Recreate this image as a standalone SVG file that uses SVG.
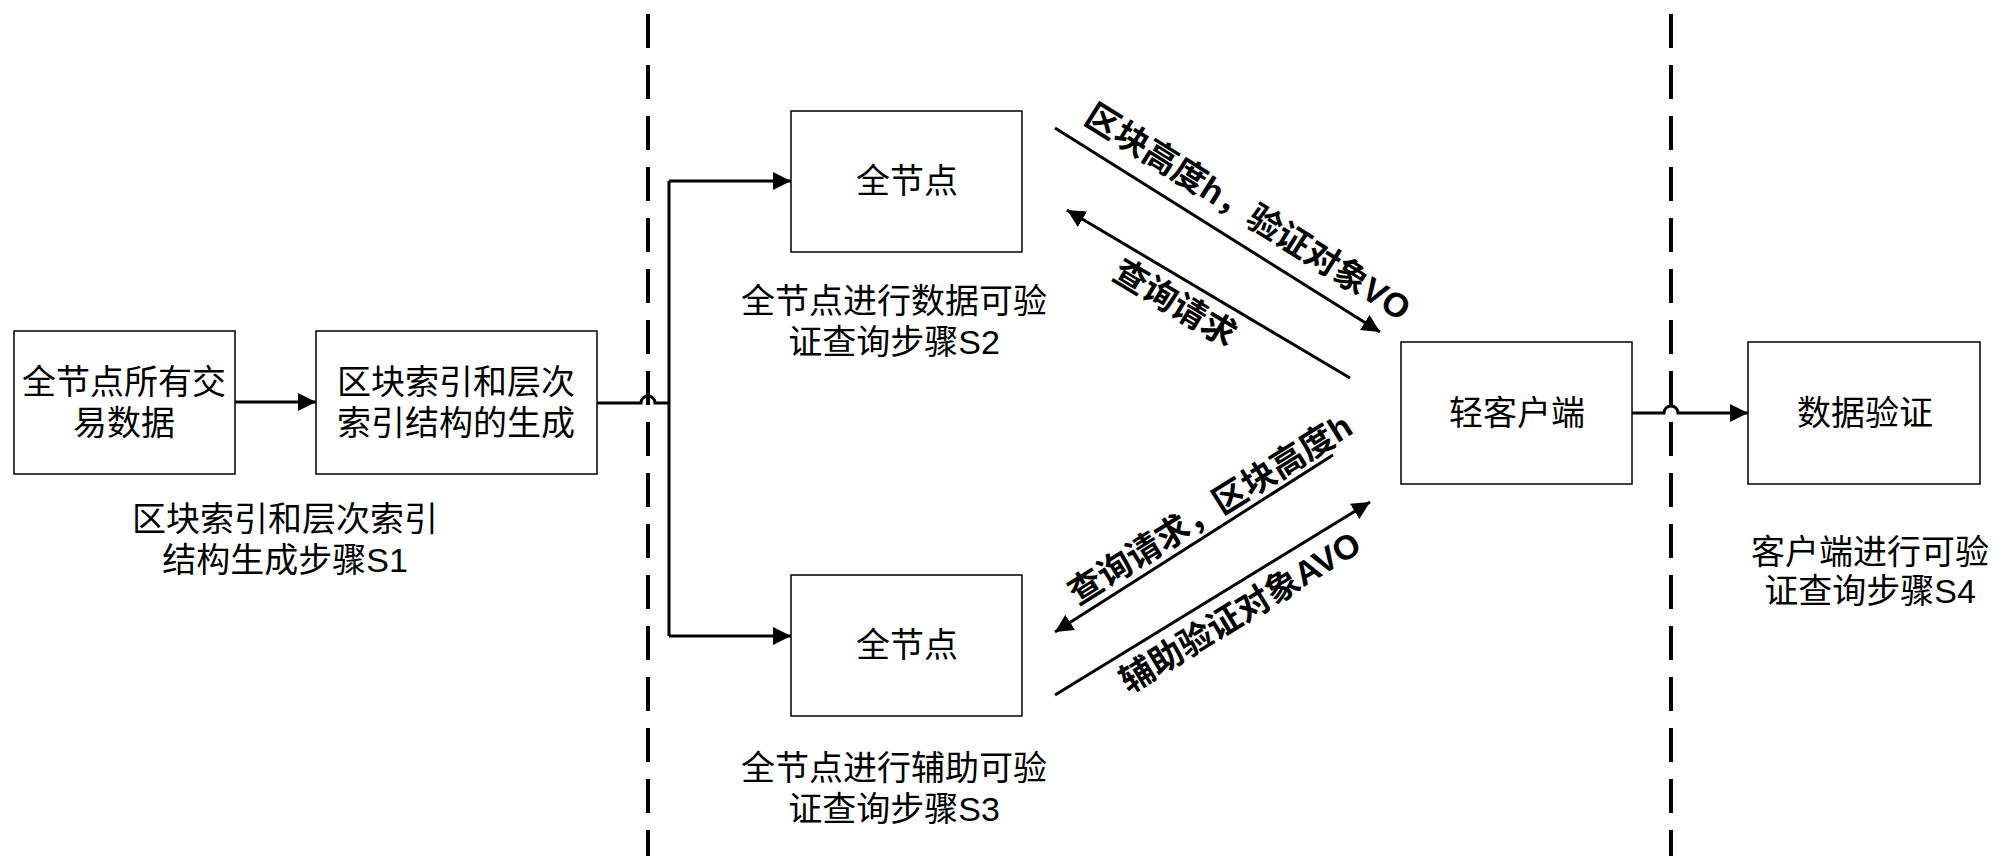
<svg xmlns="http://www.w3.org/2000/svg" width="2004" height="867" viewBox="0 0 2004 867">
<style>
.box{fill:#fff;stroke:#000;stroke-width:1.5}
.t{font-family:"Liberation Sans","Noto Sans CJK SC",sans-serif;font-size:34px;fill:#000;text-anchor:middle;dominant-baseline:central}
.tb{font-weight:bold}
.c{fill:none;stroke:#000;stroke-width:3}
.d{fill:none;stroke:#000;stroke-width:4;stroke-dasharray:34 17}
</style>
<defs>
<marker id="ah" markerUnits="userSpaceOnUse" markerWidth="20" markerHeight="20" refX="18" refY="9" orient="auto">
<path d="M0,0 L18,9 L0,18 z" fill="#000"/>
</marker>
</defs>
<rect width="2004" height="867" fill="#fff"/>
<g id="dividers">
<line class="d" x1="648" y1="14" x2="648" y2="856"/>
<line class="d" x1="1671" y1="14" x2="1671" y2="856"/>
</g>
<g id="connectors">
<line class="c" x1="235" y1="402" x2="316" y2="402" marker-end="url(#ah)"/>
<path class="c" d="M597,403 H641 A7,7 0 0 1 655,403 H669"/>
<path class="c" d="M669,181 V636"/>
<path class="c" d="M669,181 H791" marker-end="url(#ah)"/>
<path class="c" d="M669,636 H791" marker-end="url(#ah)"/>
<line class="c" x1="1055" y1="128" x2="1380" y2="332" marker-end="url(#ah)"/>
<line class="c" x1="1350" y1="378" x2="1067" y2="210" marker-end="url(#ah)"/>
<line class="c" x1="1333" y1="455" x2="1055" y2="632" marker-end="url(#ah)"/>
<line class="c" x1="1055" y1="695" x2="1370" y2="502" marker-end="url(#ah)"/>
<path class="c" d="M1632,413 H1664 A7,7 0 0 1 1678,413 H1748" marker-end="url(#ah)"/>
<text class="t tb" transform="translate(1248,212) rotate(32)">区块高度h，验证对象VO</text>
<text class="t tb" transform="translate(1175,303) rotate(31)">查询请求</text>
<text class="t tb" transform="translate(1210,509) rotate(-32)">查询请求，区块高度h</text>
<text class="t tb" transform="translate(1240,612) rotate(-31.5)">辅助验证对象AVO</text>
</g>
<g id="n1">
<rect class="box" x="14" y="331" width="221" height="143"/>
<text class="t" x="124" y="382">全节点所有交</text>
<text class="t" x="124" y="423">易数据</text>
</g>
<g id="n2">
<rect class="box" x="316" y="331" width="281" height="143"/>
<text class="t" x="456" y="382">区块索引和层次</text>
<text class="t" x="456" y="423">索引结构的生成</text>
<text class="t" x="285" y="519">区块索引和层次索引</text>
<text class="t" x="285" y="560">结构生成步骤S1</text>
</g>
<g id="n3">
<rect class="box" x="791" y="111" width="231" height="141"/>
<text class="t" x="907" y="181">全节点</text>
<text class="t" x="894" y="301">全节点进行数据可验</text>
<text class="t" x="894" y="342">证查询步骤S2</text>
</g>
<g id="n4">
<rect class="box" x="791" y="575" width="231" height="141"/>
<text class="t" x="907" y="645">全节点</text>
<text class="t" x="894" y="768">全节点进行辅助可验</text>
<text class="t" x="894" y="809">证查询步骤S3</text>
</g>
<g id="n5">
<rect class="box" x="1401" y="342" width="231" height="142"/>
<text class="t" x="1517" y="413">轻客户端</text>
</g>
<g id="n6">
<rect class="box" x="1748" y="342" width="232" height="142"/>
<text class="t" x="1865" y="413">数据验证</text>
<text class="t" x="1870" y="552">客户端进行可验</text>
<text class="t" x="1870" y="591">证查询步骤S4</text>
</g>
</svg>
